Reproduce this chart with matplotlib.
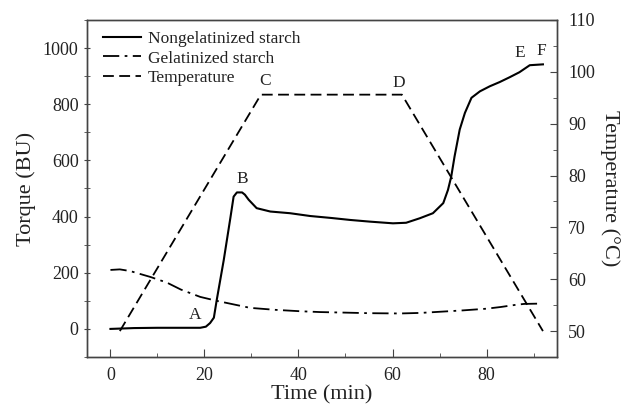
import matplotlib.pyplot as plt
from matplotlib.ticker import MultipleLocator

plt.rcParams['font.family'] = ['Liberation Serif', 'DejaVu Serif']

# nongelatinized starch torque (BU)
t_nongel = [0, 5, 10, 15, 19.1, 20.3, 21.2, 22.0, 22.6, 24.1, 25.5, 26.2, 26.9,
            28.0, 28.6, 29.4, 31.1, 34, 38.2, 42.5, 47, 51, 55.2, 60.1, 62.9,
            65.8, 68.6, 70.8, 71.8, 72.5, 73.2, 74.3, 75.4, 76.8, 78.6, 80.7,
            82.8, 84.9, 87.0, 89.2, 92]
torque_nongel = [0, 3, 4, 4, 4, 8, 21, 40, 102, 245, 394, 471, 486,
                 486, 478, 460, 430, 418, 412, 402, 395, 388, 382, 376, 378,
                 394, 412, 448, 495, 543, 614, 710, 769, 823, 846, 864,
                 879, 896, 914, 939, 942]

# gelatinized starch torque (BU)
t_gel = [0, 2, 4.2, 8.5, 12, 15, 19.1, 22.6, 26, 29.7, 35, 40.3, 44.6, 50, 55,
         61.6, 66, 70, 75, 80, 83, 86.3, 88, 91]
torque_gel = [210, 212, 206, 185, 165, 140, 114, 100, 88, 75, 68, 63, 60, 58, 56,
              55, 57, 61, 66, 72, 78, 86, 89, 90]

# temperature program
t_temp = [2, 32, 62, 92]
temp = [50, 95.6, 95.6, 50]

point_labels = ['A', 'B', 'C', 'D', 'E', 'F']
label_t = [18, 28.1, 32.9, 61.4, 87.0, 91.7]
label_torque = [49, 535, 883, 876, 983, 989]

fig = plt.figure(figsize=(6.21, 4.08), dpi=100)
ax = fig.add_axes([0.140, 0.125, 0.757, 0.826])
ax2 = ax.twinx()

l1, = ax.plot(t_nongel, torque_nongel, color='black', lw=1.5, label='Nongelatinized starch')
l2, = ax.plot(t_gel, torque_gel, color='black', lw=1.3, dashes=(9, 3, 1.5, 3),
              label='Gelatinized starch')
l3, = ax2.plot(t_temp, temp, color='black', lw=1.3, dashes=(6, 3), label='Temperature')

for s, x, y in zip(point_labels, label_t, label_torque):
    ax.text(x, y, s, fontsize=12.5, ha='center', va='center', color='#222222')

ax.set_xlim(-5, 95)
ax.set_ylim(-100, 1100)
ax2.set_ylim(45, 110)

ax.xaxis.set_major_locator(MultipleLocator(20))
ax.xaxis.set_minor_locator(MultipleLocator(10))
ax.yaxis.set_major_locator(MultipleLocator(200))
ax.yaxis.set_minor_locator(MultipleLocator(100))
ax2.yaxis.set_major_locator(MultipleLocator(10))
ax2.yaxis.set_minor_locator(MultipleLocator(5))

ax.set_xticks([0, 20, 40, 60, 80])
ax.set_yticks([0, 200, 400, 600, 800, 1000])
ax2.set_yticks([50, 60, 70, 80, 90, 100, 110])

ax.tick_params(axis='x', which='major', direction='in', length=6, labelsize=13, pad=7,
               color='#444444', labelcolor='#222222')
ax.tick_params(axis='x', which='minor', direction='in', length=3, color='#444444')
ax.tick_params(axis='y', which='major', direction='inout', length=5, labelsize=13,
               color='#444444', labelcolor='#222222')
ax.tick_params(axis='y', which='minor', direction='inout', length=4, color='#444444')
ax2.tick_params(axis='y', which='major', direction='in', length=5, labelsize=13, pad=8,
                color='#444444', labelcolor='#222222')
ax2.tick_params(axis='y', which='minor', direction='in', length=3, color='#444444')

for a in (ax, ax2):
    for sp in a.spines.values():
        sp.set_color('#444444')
        sp.set_linewidth(1.0)

ax.set_xlabel('Time (min)', fontsize=16, color='#222222', labelpad=1)
ax.set_ylabel('Torque (BU)', fontsize=16, color='#222222', labelpad=5)
ax2.set_ylabel('Temperature (°C)', fontsize=16, color='#222222', rotation=270, labelpad=18)

ax.legend(handles=[l1, l2, l3], loc='upper left', bbox_to_anchor=(0.034, 0.968),
          frameon=False, fontsize=12.5, handlelength=2.2, handletextpad=0.4,
          labelspacing=0.2, borderpad=0, borderaxespad=0, labelcolor='#222222')

fig.savefig('out.png', dpi=100)
